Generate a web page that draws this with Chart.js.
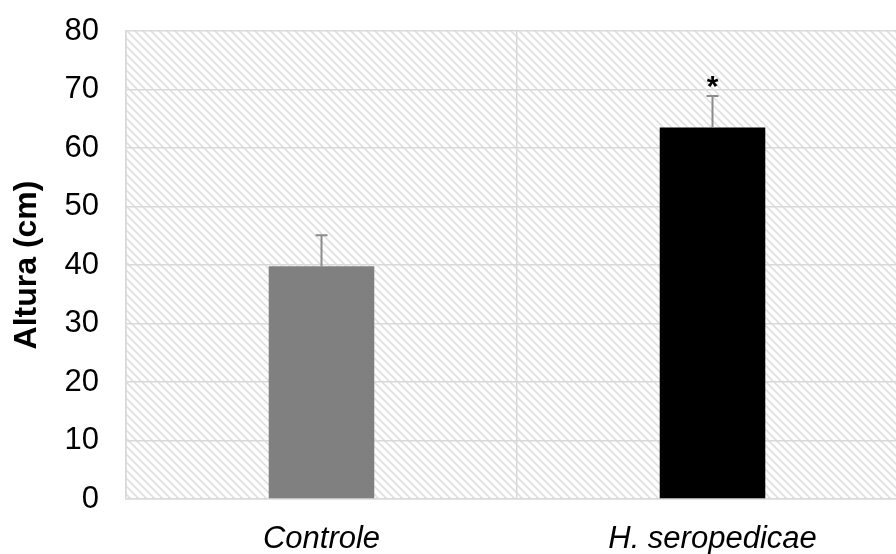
<!DOCTYPE html>
<html>
<head>
<meta charset="utf-8">
<script src="https://cdn.jsdelivr.net/npm/chart.js@4"></script>
<style>
  html, body { margin: 0; padding: 0; background: #fff; overflow: hidden; }
  #wrap { width: 910px; height: 554px; }
</style>
</head>
<body>
<div id="wrap"><canvas id="chart" width="910" height="554"></canvas></div>
<script>
// data
const categories = ['Controle', 'H. seropedicae']
const means = [39.8, 63.5]
const errors = [5.3, 5.4]
const signif = ['', '*']
const barColors = ['#808080', '#000000']
const yTicks = [0, 10, 20, 30, 40, 50, 60, 70, 80]

const FONT = "'Liberation Sans', Arial, sans-serif"
const GRID = '#d9d9d9'

// diagonal hatch behind the plot
function makeHatch() {
    const c = document.createElement('canvas')
    c.width = 8
    c.height = 8
    const g = c.getContext('2d')
    g.fillStyle = '#fff'
    g.fillRect(0, 0, 8, 8)
    g.strokeStyle = '#dedede'
    g.lineWidth = 1.6
    g.beginPath()
    g.moveTo(-2, -2); g.lineTo(10, 10)
    g.moveTo(-2, 6); g.lineTo(2, 10)
    g.moveTo(6, -2); g.lineTo(10, 2)
    g.stroke()
    return c
}

const hatchPlugin = {
    id: 'hatch',
    beforeDraw(chart) {
        const { ctx, chartArea: a } = chart
        ctx.save()
        ctx.fillStyle = ctx.createPattern(makeHatch(), 'repeat')
        ctx.fillRect(a.left, a.top, a.right - a.left, a.bottom - a.top)
        ctx.restore()
    }
}

const errorBarPlugin = {
    id: 'errorBars',
    afterDatasetsDraw(chart) {
        const ctx = chart.ctx
        const y = chart.scales.y
        const meta = chart.getDatasetMeta(0)
        ctx.save()
        meta.data.forEach((bar, i) => {
            const top = y.getPixelForValue(means[i] + errors[i])
            ctx.strokeStyle = '#8c8c8c'
            ctx.lineWidth = 2
            ctx.beginPath()
            ctx.moveTo(bar.x, bar.y)
            ctx.lineTo(bar.x, top)
            ctx.moveTo(bar.x - 6, top)
            ctx.lineTo(bar.x + 6, top)
            ctx.stroke()
            if (signif[i]) {
                ctx.fillStyle = '#000'
                ctx.font = 'bold 30px ' + FONT
                ctx.textAlign = 'center'
                ctx.textBaseline = 'alphabetic'
                ctx.fillText(signif[i], bar.x, top)
            }
        })
        ctx.restore()
    }
}

new Chart(document.getElementById('chart').getContext('2d'), {
    type: 'bar',
    data: {
        labels: categories,
        datasets: [{
            data: means,
            backgroundColor: barColors,
            borderWidth: 0,
            barPercentage: 0.27,
            categoryPercentage: 1
        }]
    },
    options: {
        responsive: false,
        animation: false,
        layout: { padding: { top: 31, right: 2, left: 0, bottom: 0 } },
        plugins: {
            legend: { display: false },
            tooltip: { enabled: false }
        },
        scales: {
            x: {
                offset: true,
                grid: { color: GRID, lineWidth: 1.5, drawTicks: false, offset: true },
                border: { color: GRID, width: 1.5 },
                ticks: {
                    color: '#000',
                    padding: 22,
                    maxRotation: 0,
                    font: { family: FONT, size: 31, style: 'italic' }
                },
                afterFit(s) { s.height = 55 }
            },
            y: {
                min: 0,
                max: 80,
                afterBuildTicks(s) { s.ticks = yTicks.map(v => ({ value: v })) },
                grid: { color: GRID, lineWidth: 1.5, drawTicks: false },
                border: { color: GRID, width: 1.5 },
                ticks: {
                    color: '#000',
                    padding: 27,
                    font: { family: FONT, size: 31 }
                },
                title: {
                    display: true,
                    text: 'Altura (cm)',
                    color: '#000',
                    padding: { top: 8, bottom: 0 },
                    font: { family: FONT, size: 32, weight: 'bold' }
                },
                afterFit(s) {
                    s.width = 126
                    s.paddingTop = 0
                    s.paddingBottom = 0
                }
            }
        }
    },
    plugins: [hatchPlugin, errorBarPlugin]
})
</script>
</body>
</html>
